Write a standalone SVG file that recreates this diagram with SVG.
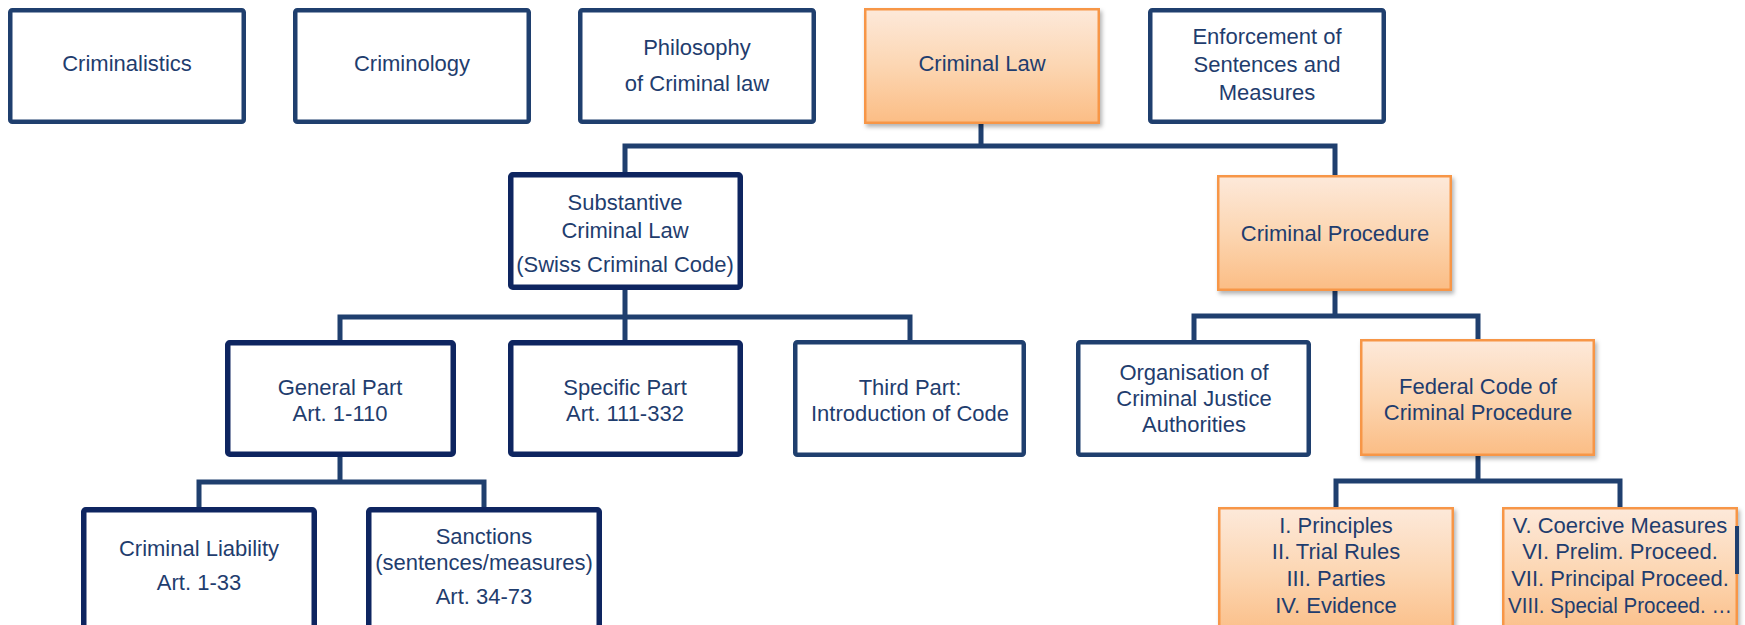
<svg xmlns="http://www.w3.org/2000/svg" width="1745" height="625" viewBox="0 0 1745 625">
<style>
text{font-family:"Liberation Sans",Arial,sans-serif;font-size:22px;fill:#1f3d6e;text-anchor:middle}
.nb{fill:#ffffff;stroke:#1f3f6e;stroke-width:4.5}
.dk{fill:#ffffff;stroke:#0e2560;stroke-width:5.5}
.or{fill:url(#og);stroke:#f79646;stroke-width:2.5;filter:url(#sh)}
.cn{fill:none;stroke:#1f3f6e;stroke-width:5}
</style>
<defs>
<linearGradient id="og" x1="0" y1="0" x2="0" y2="1">
<stop offset="0" stop-color="#fde9da"/>
<stop offset="0.5" stop-color="#fcd6b2"/>
<stop offset="1" stop-color="#fbbd85"/>
</linearGradient>
<filter id="sh" x="-5%" y="-5%" width="115%" height="120%">
<feDropShadow dx="2" dy="3" stdDeviation="2" flood-color="#000" flood-opacity="0.3"/>
</filter>
</defs>
<g id="connectors">
<path class="cn" d="M981,123 V146 M625,174 V146 H1335 V177"/>
<path class="cn" d="M625,288 V317 M340,342 V317 H910 V342 M625,317 V342"/>
<path class="cn" d="M1335,290 V316 M1194,341 V316 H1478 V340"/>
<path class="cn" d="M340,455 V482 M199,509 V482 H484 V509"/>
<path class="cn" d="M1478,455 V481 M1336,508 V481 H1620 V508"/>
</g>
<g id="n-criminalistics"><rect class="nb" x="10.25" y="10.25" width="233.5" height="111.5" rx="2"/><text x="127" y="71">Criminalistics</text></g>
<g id="n-criminology"><rect class="nb" x="295.25" y="10.25" width="233.5" height="111.5" rx="2"/><text x="412" y="71">Criminology</text></g>
<g id="n-philosophy"><rect class="nb" x="580.25" y="10.25" width="233.5" height="111.5" rx="2"/><text x="697" y="55">Philosophy</text><text x="697" y="91">of Criminal law</text></g>
<g id="n-criminal-law"><rect class="or" x="865.25" y="9.25" width="233.5" height="113.5"/><text x="982" y="71">Criminal Law</text></g>
<g id="n-enforcement"><rect class="nb" x="1150.25" y="10.25" width="233.5" height="111.5" rx="2"/><text x="1267" y="44">Enforcement of</text><text x="1267" y="72">Sentences and</text><text x="1267" y="100">Measures</text></g>
<g id="n-substantive"><rect class="dk" x="510.75" y="174.75" width="229.5" height="112.5" rx="2"/><text x="625" y="210">Substantive</text><text x="625" y="238">Criminal Law</text><text x="625" y="272">(Swiss Criminal Code)</text></g>
<g id="n-procedure"><rect class="or" x="1218.25" y="176.25" width="232.5" height="113.5"/><text x="1335" y="241">Criminal Procedure</text></g>
<g id="n-general"><rect class="dk" x="227.75" y="342.75" width="225.5" height="111.5" rx="2"/><text x="340" y="395">General Part</text><text x="340" y="421">Art. 1-110</text></g>
<g id="n-specific"><rect class="dk" x="510.75" y="342.75" width="229.5" height="111.5" rx="2"/><text x="625" y="395">Specific Part</text><text x="625" y="421">Art. 111-332</text></g>
<g id="n-third"><rect class="nb" x="795.25" y="342.25" width="228.5" height="112.5" rx="2"/><text x="910" y="395">Third Part:</text><text x="910" y="421">Introduction of Code</text></g>
<g id="n-organisation"><rect class="nb" x="1078.25" y="342.25" width="230.5" height="112.5" rx="2"/><text x="1194" y="380">Organisation of</text><text x="1194" y="406">Criminal Justice</text><text x="1194" y="432">Authorities</text></g>
<g id="n-federal"><rect class="or" x="1361.25" y="340.25" width="232.5" height="114.5"/><text x="1478" y="394">Federal Code of</text><text x="1478" y="420">Criminal Procedure</text></g>
<g id="n-liability"><rect class="dk" x="83.75" y="509.75" width="230.5" height="130" rx="2"/><text x="199" y="556">Criminal Liability</text><text x="199" y="590">Art. 1-33</text></g>
<g id="n-sanctions"><rect class="dk" x="368.75" y="509.75" width="230.5" height="130" rx="2"/><text x="484" y="544">Sanctions</text><text x="484" y="570">(sentences/measures)</text><text x="484" y="604">Art. 34-73</text></g>
<g id="n-parts1"><rect class="or" x="1219.25" y="508.25" width="233.5" height="130"/><text x="1336" y="533">I. Principles</text><text x="1336" y="559">II. Trial Rules</text><text x="1336" y="586">III. Parties</text><text x="1336" y="613">IV. Evidence</text></g>
<g id="n-parts2"><rect class="or" x="1503.25" y="508.25" width="233.5" height="130"/><text x="1620" y="533">V. Coercive Measures</text><text x="1620" y="559">VI. Prelim. Proceed.</text><text x="1620" y="586">VII. Principal Proceed.</text><text x="1620" y="613" textLength="224" lengthAdjust="spacingAndGlyphs">VIII. Special Proceed. …</text><rect x="1735" y="526" width="4" height="48" fill="#1f3f6e"/></g>
</svg>
